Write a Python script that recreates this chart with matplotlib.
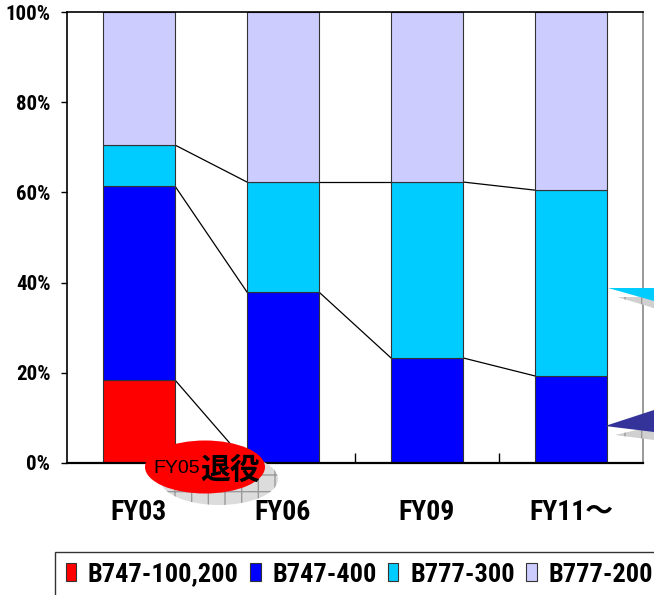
import numpy as np
import matplotlib
matplotlib.use("Agg")
import matplotlib.pyplot as plt
from matplotlib.patches import Ellipse, Polygon

# data (percent of fleet)
years = ["FY03", "FY06", "FY09", "FY11～"]
series = ["B747-100,200", "B747-400", "B777-300", "B777-200"]
b747_classic = [18.4, 0.0, 0.0, 0.0]
b747_400 = [43.0, 37.9, 23.3, 19.3]
b777_300 = [9.1, 24.4, 39.0, 41.2]
b777_200 = [29.5, 37.7, 37.7, 39.5]
colors = ["#FF0000", "#0000FF", "#00CCFF", "#CCCCFF"]
yticks = [0, 20, 40, 60, 80, 100]

W, H = 654, 595
NARROW = ["Roboto Condensed", "Noto Sans CJK JP", "DejaVu Sans"]


def fx(px):
    return px / W


def fy(py):
    return 1 - py / H


fig = plt.figure(figsize=(W / 100, H / 100), dpi=100)
ax = fig.add_axes([fx(67), fy(463), fx(643) - fx(67), fy(12) - fy(463)])

x = np.arange(len(years))
bw = 0.5
bottom = np.zeros(len(years))
tops = []
handles = []
for vals, c, name in zip([b747_classic, b747_400, b777_300, b777_200], colors, series):
    h = ax.bar(x, vals, bw, bottom=bottom, color=c, edgecolor="#333333",
               linewidth=0.8, label=name, zorder=2)
    handles.append(h)
    bottom = bottom + np.array(vals)
    tops.append(bottom.copy())

# series lines between the bars
for lev in tops[:-1]:
    for i in range(len(years) - 1):
        ax.plot([x[i] + bw / 2, x[i + 1] - bw / 2], [lev[i], lev[i + 1]],
                color="black", lw=0.9, zorder=1)

ax.set_xlim(-0.5, len(years) - 0.5)
ax.set_ylim(0, 100)
ax.set_yticks(yticks)
ax.set_yticklabels([f"{v}%" for v in yticks], family=NARROW,
                   fontweight="bold", fontsize=15)
ax.tick_params(axis="y", direction="out", length=4, width=1, pad=8)
ax.set_xticks(x)
ax.set_xticklabels(years, family=NARROW, fontweight="bold", fontsize=20)
ax.tick_params(axis="x", which="major", length=0, pad=26)
ax.set_xticks(x[:-1] + 0.5, minor=True)
ax.tick_params(axis="x", which="minor", direction="in", length=7, width=1)

ax.spines["left"].set_linewidth(1.2)
ax.spines["bottom"].set_linewidth(1.6)
ax.spines["top"].set_linewidth(1.2)
ax.spines["right"].set_color("#888888")
ax.spines["right"].set_linewidth(1.2)

# legend, running off the right edge as in the source
leg = fig.legend(handles=handles, loc="upper left",
                 bbox_to_anchor=(fx(55), fy(552)), ncol=4, frameon=True,
                 fancybox=False, borderaxespad=0, handlelength=0.4,
                 handleheight=0.65, handletextpad=0.45, columnspacing=0.42,
                 borderpad=0.4,
                 prop={"family": NARROW, "size": 19, "weight": "bold"})
leg.get_frame().set_edgecolor("black")
leg.get_frame().set_linewidth(1.0)
for p in leg.get_patches():
    p.set_edgecolor("#333333")

# "FY05 retired" balloon
sh = Ellipse((fx(219), fy(479)), fx(118), 52 / H, transform=fig.transFigure,
             facecolor="#dcdcdc", edgecolor="#9a9a9a", linewidth=0,
             hatch="+", zorder=5)
fig.add_artist(sh)
el = Ellipse((fx(205), fy(467)), fx(120), 53 / H, transform=fig.transFigure,
             facecolor="#FF0000", edgecolor="none", zorder=6)
fig.add_artist(el)
fig.text(fx(153), fy(473), "FY05", fontsize=14, va="baseline", ha="left",
         family=["Liberation Sans", "DejaVu Sans"], zorder=7)
fig.text(fx(200), fy(470), "退役", fontsize=21.5, fontweight="bold",
         va="center", ha="left", family=["Noto Sans CJK JP"], zorder=7)

# callout pointers cut off at the right edge
tri_shadow1 = Polygon([(fx(617), fy(297)), (fx(654), fy(297)), (fx(654), fy(308))],
                      closed=True, transform=fig.transFigure, facecolor="#d0d0d0",
                      edgecolor="#9a9a9a", linewidth=0, hatch="+", zorder=5)
tri1 = Polygon([(fx(608), fy(288)), (fx(654), fy(288)), (fx(654), fy(301))],
               closed=True, transform=fig.transFigure,
               facecolor="#00CCFF", edgecolor="none", zorder=6)
tri_shadow2 = Polygon([(fx(615), fy(435)), (fx(654), fy(426)), (fx(654), fy(440))],
                      closed=True, transform=fig.transFigure, facecolor="#d0d0d0",
                      edgecolor="#9a9a9a", linewidth=0, hatch="+", zorder=5)
tri2 = Polygon([(fx(605), fy(426)), (fx(654), fy(410)), (fx(654), fy(432))],
               closed=True, transform=fig.transFigure,
               facecolor="#333399", edgecolor="none", zorder=6)
for t in [tri_shadow1, tri1, tri_shadow2, tri2]:
    fig.add_artist(t)

fig.savefig("out.png", dpi=100)
